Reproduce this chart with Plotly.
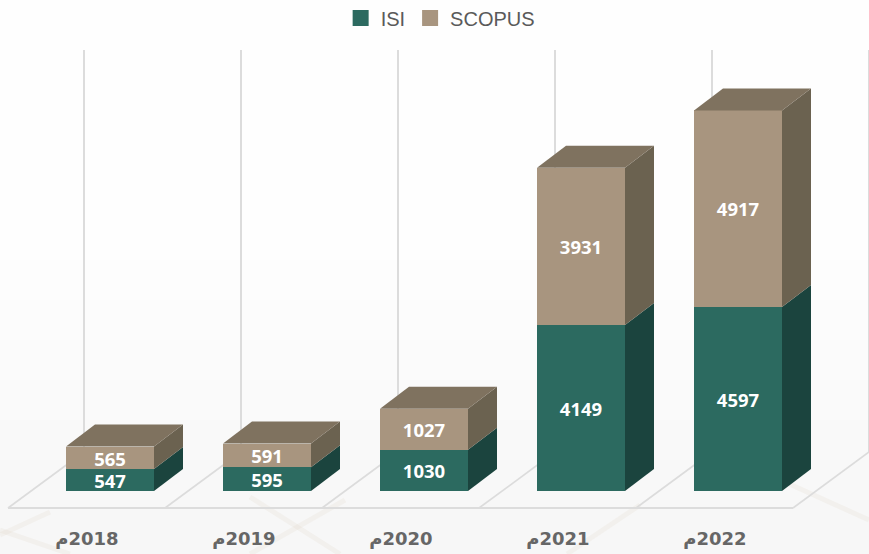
import plotly.graph_objects as go

years = ["2018", "2019", "2020", "2021", "2022"]
isi = [547, 595, 1030, 4149, 4597]
scopus = [565, 591, 1027, 3931, 4917]
tick_labels = ["م\u200e" + y for y in years]

ISI_FRONT, ISI_SIDE = "#2c6a60", "#1b443e"
SC_FRONT, SC_SIDE, SC_TOP = "#a8957f", "#6b6250", "#7f725f"
GRID = "#dcdcdc"

# geometry: one category = 157 px, one unit = 0.04 px
W, H = 869, 554
PX_X, PX_Y = 157.0, 0.04
X0_PX, BASE_PX, PLOT_BOTTOM = 110.0, 491.0, 520.0
BAR_W = 88 / PX_X
DX, DY = 29 / PX_X, 22 / PX_Y
xs = list(range(len(years)))


def px_x(p):
    return (p - X0_PX) / PX_X


def px_y(p):
    return (BASE_PX - p) / PX_Y


fig = go.Figure()

# soft backdrop: brightness bands and floor tile joints
band_tops = [260, 300, 340, 380, 420, 460, 500]
shapes = []
for top in band_tops:
    shapes.append(dict(type="rect", xref="paper", yref="paper", x0=0, x1=1,
                       y0=(PLOT_BOTTOM - H) / PLOT_BOTTOM, y1=(PLOT_BOTTOM - top) / PLOT_BOTTOM,
                       fillcolor="rgba(120,120,95,0.004)", line_width=0, layer="below"))
joints = [(250, 497, 340, 554), (345, 500, 250, 554), (640, 505, 567, 554), (785, 482, 869, 520),
          (0, 530, 70, 554), (0, 535, 50, 512)]
for a, b, c, d in joints:
    shapes.append(dict(type="line", xref="x", yref="paper", x0=px_x(a), y0=(PLOT_BOTTOM - b) / PLOT_BOTTOM,
                       x1=px_x(c), y1=(PLOT_BOTTOM - d) / PLOT_BOTTOM,
                       line=dict(color="rgba(205,195,160,0.11)", width=5), layer="below"))

# floor outline + back wall lines
FLOOR_FRONT, FLOOR_BACK = px_y(508), px_y(452)
WALL_TOP = px_y(50)
for i in range(len(years) + 1):
    fx = px_x(8) + i
    bx = px_x(84) + i
    shapes.append(dict(type="line", xref="x", yref="y", x0=fx, y0=FLOOR_FRONT, x1=bx, y1=FLOOR_BACK,
                       line=dict(color=GRID, width=1.6), layer="below"))
    shapes.append(dict(type="line", xref="x", yref="y", x0=bx, y0=FLOOR_BACK, x1=bx, y1=WALL_TOP,
                       line=dict(color=GRID, width=2), layer="below"))
shapes.append(dict(type="line", xref="x", yref="y", x0=px_x(8), y0=FLOOR_FRONT, x1=px_x(8) + len(years),
                   y1=FLOOR_FRONT, line=dict(color=GRID, width=2), layer="below"))

fig.add_trace(go.Bar(x=xs, y=isi, width=BAR_W, marker=dict(color=ISI_FRONT, line_width=0), text=isi,
                     name="ISI", showlegend=False, legendgroup="ISI"))
fig.add_trace(go.Bar(x=xs, y=scopus, width=BAR_W, marker=dict(color=SC_FRONT, line_width=0), text=scopus,
                     name="SCOPUS", showlegend=False, legendgroup="SCOPUS"))
fig.update_traces(textposition="inside", insidetextanchor="middle", textangle=0, constraintext="none",
                  textfont=dict(family="Open Sans", size=18.5, color="white", weight=700))


def poly(px, py, color):
    fig.add_trace(go.Scatter(x=px, y=py, mode="lines", fill="toself", fillcolor=color, line=dict(width=0, color=color),
                             hoverinfo="skip", showlegend=False))


for i, a, b in zip(xs, isi, scopus):
    r = i + BAR_W / 2
    l = i - BAR_W / 2
    total = a + b
    poly([r, r + DX, r + DX, r, r], [0, DY, a + DY, a, 0], ISI_SIDE)
    poly([r, r + DX, r + DX, r, r], [a, a + DY, total + DY, total, a], SC_SIDE)
    poly([l, l + DX, r + DX, r, l], [total, total + DY, total + DY, total, total], SC_TOP)

# legend swatches
for name, color in [("ISI", ISI_FRONT), ("SCOPUS", SC_FRONT)]:
    fig.add_trace(go.Scatter(x=[None], y=[None], mode="markers", name=name, legendgroup=name,
                             marker=dict(symbol="square", size=17, color=color)))

fig.update_layout(
    width=W, height=H, barmode="stack", bargap=0,
    margin=dict(l=0, r=0, t=0, b=H - PLOT_BOTTOM, autoexpand=False),
    paper_bgcolor="#fefefe", plot_bgcolor="rgba(0,0,0,0)",
    shapes=shapes,
    legend=dict(orientation="h", x=0.392, xanchor="left", y=1.003, yanchor="top", bgcolor="rgba(0,0,0,0)",
                itemsizing="trace", itemwidth=30, traceorder="normal",
                font=dict(family="Liberation Sans", size=20, color="#5a5a5a")),
    xaxis=dict(range=[px_x(0), px_x(W)], tickmode="array", tickvals=[i - 23 / PX_X for i in xs], ticktext=tick_labels,
               showgrid=False, zeroline=False, showline=False, ticks="", ticklabelstandoff=6,
               tickfont=dict(family="DejaVu Sans", size=18, color="#666666", weight=700)),
    yaxis=dict(range=[px_y(PLOT_BOTTOM), px_y(0)], visible=False, showgrid=False, zeroline=False),
)

js = "document.documentElement.style.margin='0';document.body.style.margin='0';document.body.style.overflow='hidden';"
fig.write_html("out.html", config=dict(displayModeBar=False), post_script=js)
